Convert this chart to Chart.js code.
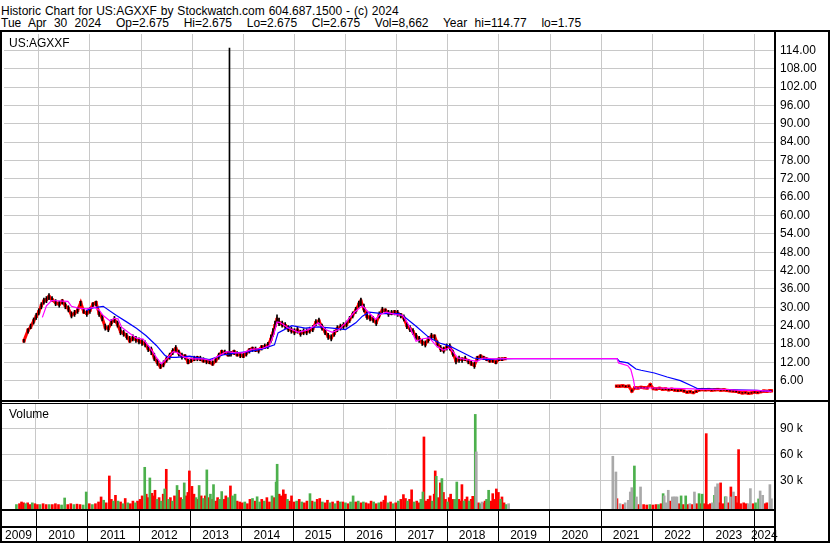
<!DOCTYPE html>
<html>
<head>
<meta charset="utf-8">
<title>US:AGXXF Historic Chart</title>
<script src="https://cdn.jsdelivr.net/npm/chart.js@4.4.1/dist/chart.umd.min.js"></script>
<style>
  html, body { margin: 0; padding: 0; background: #fff; }
  body { width: 830px; height: 543px; position: relative; overflow: hidden;
         font-family: "Liberation Sans", Arial, sans-serif; font-size: 12px; color: #000; }
  .txt { position: absolute; white-space: pre; line-height: 12px; }
  canvas { position: absolute; left: 0; }
</style>
</head>
<body>
<canvas id="priceChart" width="830" height="373" style="top:30px"></canvas>
<canvas id="volChart" width="830" height="140" style="top:403px"></canvas>
<div class="txt" style="left:1px;top:5px;word-spacing:0.6px">Historic Chart for US:AGXXF by Stockwatch.com 604.687.1500 - (c) 2024</div>
<div class="txt" style="left:1px;top:17px;word-spacing:4px">Tue Apr 30 2024  Op=2.675  Hi=2.675  Lo=2.675  Cl=2.675  Vol=8,662  Year hi=114.77  lo=1.75</div>
<div class="txt" style="left:9px;top:37px">US:AGXXF</div>
<div class="txt" style="left:9px;top:408px">Volume</div>
<script>
// ---- data (dates are fractional years) ----
var years = [2009, 2010, 2011, 2012, 2013, 2014, 2015, 2016, 2017, 2018, 2019, 2020, 2021, 2022, 2023, 2024];
var priceTicks = [6, 12, 18, 24, 30, 36, 42, 48, 54, 60, 66, 72, 78, 84, 90, 96, 102, 108, 114];
var volTicks = [30, 60, 90]; // thousands

var priceDates = [
  2009.71, 2009.79, 2009.84, 2009.90, 2009.95,
  2010.00, 2010.05, 2010.10, 2010.15, 2010.20, 2010.26, 2010.33, 2010.40, 2010.46, 2010.52, 2010.58, 2010.64, 2010.70, 2010.76, 2010.82, 2010.88, 2010.94,
  2011.00, 2011.06, 2011.12, 2011.18, 2011.24, 2011.30, 2011.36, 2011.42, 2011.48, 2011.54, 2011.60, 2011.66, 2011.72, 2011.78, 2011.84, 2011.90, 2011.96,
  2012.02, 2012.08, 2012.14, 2012.20, 2012.26, 2012.32, 2012.38, 2012.44, 2012.50, 2012.56, 2012.62, 2012.68, 2012.74, 2012.80, 2012.86, 2012.92, 2012.98,
  2013.04, 2013.10, 2013.16, 2013.22, 2013.28, 2013.34, 2013.40, 2013.46, 2013.52, 2013.58, 2013.64, 2013.70, 2013.73, 2013.76, 2013.82, 2013.88, 2013.94,
  2014.00, 2014.06, 2014.12, 2014.18, 2014.24, 2014.30, 2014.36, 2014.42, 2014.48, 2014.54, 2014.58, 2014.62, 2014.66, 2014.70, 2014.76, 2014.82, 2014.88, 2014.94,
  2015.00, 2015.06, 2015.12, 2015.18, 2015.24, 2015.30, 2015.36, 2015.42, 2015.48, 2015.54, 2015.60, 2015.66, 2015.72, 2015.78, 2015.84, 2015.90, 2015.96,
  2016.02, 2016.08, 2016.14, 2016.20, 2016.26, 2016.30, 2016.36, 2016.42, 2016.48, 2016.54, 2016.60, 2016.66, 2016.72, 2016.78, 2016.84, 2016.90, 2016.96,
  2017.02, 2017.08, 2017.14, 2017.20, 2017.26, 2017.32, 2017.38, 2017.44, 2017.50, 2017.56, 2017.62, 2017.68, 2017.74, 2017.80, 2017.86, 2017.92, 2017.98,
  2018.04, 2018.10, 2018.16, 2018.22, 2018.28, 2018.34, 2018.40, 2018.46, 2018.52, 2018.58, 2018.64, 2018.70, 2018.76, 2018.82, 2018.88, 2018.94,
  2019.00, 2019.06, 2019.12,
  2020.20,
  2021.30, 2021.36, 2021.42, 2021.48, 2021.54, 2021.60, 2021.66, 2021.72, 2021.78, 2021.84, 2021.90, 2021.96,
  2022.02, 2022.08, 2022.14, 2022.20, 2022.26, 2022.32, 2022.38, 2022.44, 2022.50, 2022.56, 2022.62, 2022.68, 2022.74, 2022.80, 2022.86, 2022.92, 2022.98,
  2023.04, 2023.10, 2023.16, 2023.22, 2023.28, 2023.34, 2023.40, 2023.46, 2023.52, 2023.58, 2023.64, 2023.70, 2023.76, 2023.82, 2023.88, 2023.94,
  2024.00, 2024.06, 2024.12, 2024.18, 2024.24, 2024.30, 2024.33
];
var closes = [
  19, 22.5, 23.5, 25.5, 27,
  28.5, 30.5, 32, 32.5, 33.5, 32.5, 31.5, 31, 32, 30.5, 29.5, 27.5, 28, 29, 31.5, 28.5, 28,
  29, 31, 31.5, 28, 26.5, 23.5, 23, 25, 26, 24.5, 22, 21.5, 20.5, 19, 20, 19.5, 19,
  18.5, 18, 16.5, 16, 13.5, 12, 10.5, 11.5, 13, 14, 15.5, 16.5, 15, 14, 14, 12, 12.5,
  13, 13.5, 13, 12.5, 12.5, 12, 11.5, 12.5, 14, 15.5, 15, 14.5, 15, 15, 15.5, 14.5, 14.5,
  14, 15, 16, 16.5, 16, 16, 17, 17, 17.5, 19.5, 21.5, 24, 26, 25, 24.5, 24, 23, 22.5,
  22, 22.5, 21.5, 22, 22, 22.5, 23, 25, 25.5, 23.5, 22, 20.5, 20, 21.5, 23, 23.5, 24,
  24.5, 26, 27.5, 29, 31, 32, 29.5, 27, 26.5, 26, 25, 27.5, 29, 29, 28, 28, 28.5,
  28, 27.5, 26.5, 24, 23, 22, 20.5, 19.5, 18.5, 18, 19.5, 20.5, 20.5, 18, 16.5, 16, 17,
  17, 15, 12.5, 13, 13, 13, 12.5, 11.5, 11, 13.5, 14, 13.5, 13, 12.5, 12.5, 12,
  13, 13, 13.2,
  null,
  4.2, 4.2, 4.3, 4.1, 4.2, 2.6, 3.7, 3.6, 3.8, 3.7, 3.6, 4.7,
  3.4, 3.3, 3.5, 3.2, 3.3, 3.0, 3.2, 2.9, 2.8, 2.9, 2.6, 2.2, 2.4, 2.1, 2.5, 3.0, 3.1,
  3.0, 3.1, 2.9, 3.0, 3.1, 2.9, 3.0, 2.8, 2.7, 2.6, 2.5, 2.2, 2.0, 2.1, 1.9, 2.0,
  2.3, 2.1, 2.4, 2.6, 2.5, 2.7, 2.675
];
var highs = [
  19.5, 23, 24.5, 26.5, 28,
  29.5, 31.5, 33, 33.5, 34.5, 33.5, 32.5, 32, 32.5, 31.5, 30.5, 28.5, 29, 30, 32, 29.5, 29,
  30, 31.5, 32, 29, 27.5, 24.5, 24, 26, 27, 25.5, 23.5, 22.5, 21.5, 20.5, 21, 20.5, 20,
  19.5, 19, 17.5, 17, 15, 13, 11.5, 12.5, 14, 15, 16.5, 17.5, 16, 15, 14.5, 13, 13.5,
  14, 14, 14, 13.5, 13, 13, 12.5, 13.5, 15, 16, 16, 15.5, 114.77, 15.5, 16, 15.5, 15,
  15, 15.5, 16.5, 17, 17, 16.5, 17.5, 18, 18.5, 21, 23, 25.5, 27.5, 26.5, 25.5, 25, 24, 23.5,
  23, 23.5, 22.5, 23, 23, 23.5, 24, 26, 26.5, 24.5, 23, 21.5, 21, 22.5, 24, 24.5, 25,
  25.5, 27, 28.5, 30, 32, 33, 31, 28.5, 27.5, 27, 26, 28.5, 30, 29.5, 29, 29, 29,
  29, 28, 27.5, 25, 24, 23, 21.5, 20.5, 19.5, 19, 20.5, 21.5, 21, 19, 17.5, 17, 18,
  18, 16, 13.5, 14, 13.5, 14, 13, 12.5, 12, 14, 14.5, 14, 13.5, 13, 13, 12.5,
  13.5, 13.5, 13.5,
  null,
  4.3, 4.3, 4.4, 4.3, 4.3, 3.0, 3.8, 3.7, 3.9, 3.8, 3.7, 4.8,
  3.5, 3.4, 3.6, 3.3, 3.4, 3.2, 3.3, 3.0, 2.9, 3.0, 2.8, 2.4, 2.5, 2.3, 2.6, 3.1, 3.2,
  3.1, 3.2, 3.0, 3.1, 3.2, 3.0, 3.1, 2.9, 2.8, 2.7, 2.6, 2.3, 2.1, 2.2, 2.0, 2.1,
  2.4, 2.2, 2.5, 2.7, 2.6, 2.8, 2.675
];
var lows = [
  18.5, 21.5, 23, 24.5, 26,
  27.5, 29.5, 31, 31.5, 32.5, 32, 30.5, 30, 31, 29.5, 28.5, 26.5, 27, 28, 30.5, 28, 27,
  28, 30, 30.5, 27, 25.5, 22.5, 22, 24, 25, 23.5, 21, 20.5, 19.5, 18.5, 19, 18.5, 18,
  17.5, 17, 15.5, 14.5, 12.5, 11, 10, 10.5, 12, 13, 14.5, 15.5, 14, 13, 13, 11.5, 12,
  12.5, 12.5, 12.5, 12, 11.5, 11.5, 11, 12, 13, 14.5, 14.5, 14, 14, 14, 14.5, 14, 13.5,
  13.5, 14, 15, 15.5, 15.5, 15, 16, 16.5, 16.5, 18.5, 20.5, 23, 25, 24, 23.5, 23, 22, 21.5,
  21, 21.5, 20.5, 21, 21, 21.5, 22, 24, 24.5, 22.5, 21, 19.5, 19, 20.5, 22, 22.5, 23,
  23.5, 25, 26.5, 28, 30, 30.5, 28.5, 26, 25.5, 25, 24, 26.5, 28, 28, 27, 27.5, 27.5,
  27, 26.5, 25.5, 23, 22, 21, 19.5, 18.5, 17.5, 17, 18.5, 19.5, 19.5, 17, 15.5, 15, 16,
  16, 14, 11.5, 12, 12, 12.5, 11.5, 11, 10, 12.5, 13.5, 13, 12.5, 12, 12, 11.5,
  12.5, 12.5, 13,
  null,
  4.1, 4.1, 4.2, 4.0, 4.1, 2.5, 3.5, 3.5, 3.6, 3.6, 3.5, 4.5,
  3.3, 3.2, 3.3, 3.1, 3.1, 2.9, 3.0, 2.8, 2.6, 2.7, 2.5, 2.1, 2.2, 2.0, 2.3, 2.8, 3.0,
  2.9, 3.0, 2.8, 2.9, 3.0, 2.8, 2.9, 2.7, 2.6, 2.5, 2.3, 2.1, 1.9, 2.0, 1.75, 1.9,
  2.1, 2.0, 2.3, 2.5, 2.4, 2.6, 2.675
];

// short moving average (magenta)
var maFastDates = [
  2010.07, 2010.15, 2010.25, 2010.57, 2010.64, 2010.77, 2010.93,
  2011.09, 2011.19, 2011.26, 2011.39, 2011.49, 2011.55, 2011.62, 2011.75, 2011.91,
  2012.04, 2012.17, 2012.30, 2012.40, 2012.50, 2012.63, 2012.72, 2012.85,
  2013.02, 2013.21, 2013.37, 2013.50, 2013.67, 2013.86, 2013.99,
  2014.16, 2014.38, 2014.51, 2014.60, 2014.66, 2014.72, 2014.88,
  2015.08, 2015.28, 2015.47, 2015.61, 2015.74, 2015.87,
  2016.00, 2016.16, 2016.33, 2016.46, 2016.59, 2016.66, 2016.79, 2016.99,
  2017.12, 2017.25, 2017.38, 2017.51, 2017.64, 2017.78, 2017.91,
  2018.04, 2018.20, 2018.37, 2018.57, 2018.70, 2018.89,
  2019.16, 2021.31, 2021.34, 2021.52, 2021.58, 2021.63, 2021.66, 2021.78,
  2022.04, 2022.42, 2022.81, 2022.88, 2023.46, 2023.72, 2024.04, 2024.33
];
var maFast = [
  26.7, 30.5, 32.2, 31.9, 30.3, 29.7, 29.5,
  30, 28.9, 27.3, 25.6, 26.4, 26.2, 23.5, 21.8, 19.9,
  19.6, 16.9, 13.6, 11.5, 13.1, 15.5, 15.1, 13.6,
  13.1, 13.1, 12.6, 14, 15.5, 15.1, 15.1,
  16.2, 16.6, 17.5, 21.3, 25.2, 25, 23.2,
  21.8, 22.7, 24.9, 22.7, 21.8, 22.7,
  24.9, 28.2, 30.5, 28.2, 26, 27.5, 28.4, 27.6,
  27.3, 23.8, 18.9, 19.7, 20, 17.3, 16,
  16.7, 13.4, 12.9, 12.3, 13.4, 13.1,
  13.2, 13.2, 11.8, 10.9, 9.6, 6.4, 3.6, 3.6,
  3.6, 3.5, 3.3, 3.1, 3.1, 2.8, 2.8, 2.5
];

// long moving average (blue)
var maSlowDates = [
  2010.93, 2011.03, 2011.26, 2011.52, 2011.71, 2011.91,
  2012.10, 2012.30, 2012.46, 2012.53, 2012.69, 2012.95,
  2013.08, 2013.34, 2013.60, 2013.86,
  2014.12, 2014.38, 2014.61, 2014.68, 2014.95,
  2015.21, 2015.47, 2015.74,
  2016.00, 2016.20, 2016.33, 2016.46, 2016.72,
  2017.05, 2017.18, 2017.38, 2017.64, 2017.84,
  2018.04, 2018.24, 2018.50, 2018.76,
  2019.03, 2019.29, 2021.31, 2021.36, 2021.52, 2021.68, 2021.78,
  2022.04, 2022.29, 2022.55, 2022.81, 2022.88,
  2023.07, 2023.46, 2024.04, 2024.33
];
var maSlow = [
  28.9, 29.7, 30.3, 27.3, 25.3, 23.1,
  20.7, 17.5, 14.4, 13.6, 13.6, 14,
  13.6, 12.9, 14.4, 15.1,
  15.5, 16.4, 17.7, 21.6, 24,
  23.2, 23.6, 23.2,
  22.7, 24.9, 27.1, 28.4, 27.9,
  27.9, 26.5, 23.8, 20, 18.3,
  17.3, 15.6, 13.4, 12.9,
  13.1, 13.2, 13.2, 12.3, 11.8, 9.8, 9.4,
  8.5, 7.2, 6.0, 4.0, 3.4,
  3.3, 3.1, 2.8, 2.5
];

// volume: u = up day (green), d = down day (red), n = unchanged (grey)
var volDates = [
  2009.62, 2009.68, 2009.72, 2009.76, 2009.80, 2009.84, 2009.88, 2009.93, 2009.98,
  2010.03, 2010.08, 2010.14, 2010.20, 2010.26, 2010.32, 2010.38, 2010.44, 2010.50, 2010.56, 2010.62, 2010.68, 2010.74, 2010.80, 2010.86, 2010.92, 2010.98,
  2011.04, 2011.10, 2011.16, 2011.22, 2011.27, 2011.32, 2011.37, 2011.43, 2011.47, 2011.51, 2011.55, 2011.60, 2011.65, 2011.70, 2011.74, 2011.79, 2011.84, 2011.89, 2011.94, 2011.98,
  2012.03, 2012.07, 2012.12, 2012.15, 2012.19, 2012.22, 2012.26, 2012.30, 2012.32, 2012.36, 2012.40, 2012.44, 2012.48, 2012.51, 2012.54, 2012.58, 2012.62, 2012.66, 2012.70, 2012.75, 2012.78, 2012.82, 2012.86, 2012.89, 2012.93, 2012.96, 2012.99,
  2013.04, 2013.08, 2013.12, 2013.15, 2013.18, 2013.22, 2013.26, 2013.30, 2013.33, 2013.37, 2013.40, 2013.44, 2013.46, 2013.50, 2013.54, 2013.58, 2013.62, 2013.66, 2013.70, 2013.75, 2013.79, 2013.83, 2013.88, 2013.92, 2013.97,
  2014.02, 2014.07, 2014.12, 2014.17, 2014.22, 2014.27, 2014.31, 2014.36, 2014.40, 2014.45, 2014.50, 2014.55, 2014.60, 2014.64, 2014.68, 2014.70, 2014.74, 2014.78, 2014.82, 2014.86, 2014.90, 2014.94, 2014.98,
  2015.03, 2015.08, 2015.13, 2015.18, 2015.23, 2015.28, 2015.34, 2015.38, 2015.43, 2015.48, 2015.53, 2015.58, 2015.63, 2015.68, 2015.73, 2015.78, 2015.83, 2015.88, 2015.93, 2015.98,
  2016.03, 2016.08, 2016.13, 2016.18, 2016.23, 2016.28, 2016.33, 2016.38, 2016.43, 2016.48, 2016.53, 2016.58, 2016.63, 2016.68, 2016.73, 2016.78, 2016.81, 2016.86, 2016.91, 2016.96,
  2017.01, 2017.06, 2017.11, 2017.16, 2017.20, 2017.24, 2017.28, 2017.32, 2017.37, 2017.42, 2017.46, 2017.50, 2017.54, 2017.56, 2017.60, 2017.64, 2017.68, 2017.72, 2017.76, 2017.78, 2017.80, 2017.84, 2017.88, 2017.91, 2017.94, 2017.98,
  2018.02, 2018.05, 2018.08, 2018.12, 2018.16, 2018.20, 2018.24, 2018.28, 2018.30, 2018.34, 2018.37, 2018.40, 2018.44, 2018.48, 2018.51, 2018.54, 2018.56, 2018.58, 2018.62, 2018.66, 2018.69, 2018.72, 2018.75, 2018.78, 2018.82, 2018.86, 2018.90, 2018.94, 2018.97,
  2019.01, 2019.05, 2019.08, 2019.12, 2019.16, 2019.21,
  2021.24, 2021.30, 2021.32, 2021.38, 2021.44, 2021.48, 2021.54, 2021.58, 2021.61, 2021.66, 2021.70, 2021.74, 2021.78, 2021.84, 2021.90, 2021.96,
  2022.02, 2022.08, 2022.13, 2022.18, 2022.22, 2022.24, 2022.28, 2022.32, 2022.36, 2022.40, 2022.43, 2022.46, 2022.49, 2022.53, 2022.57, 2022.61, 2022.66, 2022.70, 2022.74, 2022.78, 2022.83, 2022.87, 2022.92, 2022.95, 2022.98,
  2023.02, 2023.06, 2023.10, 2023.14, 2023.18, 2023.22, 2023.24, 2023.28, 2023.31, 2023.34, 2023.38, 2023.43, 2023.45, 2023.49, 2023.53, 2023.54, 2023.59, 2023.63, 2023.66, 2023.69, 2023.73, 2023.79, 2023.84, 2023.88, 2023.92, 2023.97,
  2024.02, 2024.08, 2024.11, 2024.16, 2024.20, 2024.24, 2024.30, 2024.33
];
var volumesK = [
  2, 3, 5, 4, 3, 4, 2, 4, 3,
  2, 2, 3, 2, 2, 2, 3, 2, 1.5, 9.6, 2, 3, 2, 2.5, 2, 1.5, 16.5,
  3, 2, 3, 5, 10.8, 7, 4, 35, 8, 6, 12.7, 6, 5, 3, 9, 4, 3, 6, 4, 6,
  8, 12, 45, 14, 10, 32.7, 15, 12, 18.5, 8, 10, 6, 14, 20, 42.7, 8, 10, 6, 12, 24, 18.5, 10, 8, 27, 12, 16, 40.8,
  23, 14, 10, 8, 24, 12, 9, 12, 42, 10, 14, 8, 25, 6, 10, 8, 17, 8, 12, 10, 23.5, 12, 14, 6, 5,
  4, 5, 3, 8, 9, 6, 11, 5, 8, 6, 10, 5, 12, 10, 28, 48.5, 14, 12, 19, 14, 8, 6, 12,
  5, 6, 8, 5, 4, 6, 14.6, 6, 5, 8, 9, 5, 4, 7, 4, 5, 3, 6, 5, 5,
  4, 3, 5, 12, 5, 6, 4, 5, 4, 3, 6, 5, 3, 4, 5, 7, 12, 4, 5, 3,
  4, 6, 8, 13.5, 9, 6, 8, 19, 5, 6, 4, 8, 16.5, 80, 6, 8, 12, 6, 14, 40.8, 34.6, 10, 27, 32, 16, 8,
  5, 10, 14, 8, 8, 28, 8, 6, 25, 6, 8, 10.8, 6, 8, 11.5, 5, 106, 62.7, 4, 3, 5, 4, 6, 8, 18.5, 6, 14.6, 8, 20,
  16, 8, 10.8, 4, 2, 3,
  57.7, 39.6, 8.8, 3, 2, 4, 6.9, 16.5, 21.5, 46.5, 10.8, 2, 22.3, 2, 1.5, 2,
  1.5, 2, 2, 3, 14.6, 12, 4, 18.5, 6, 10.8, 10.8, 10.8, 10.8, 3, 12, 2, 12, 2, 3, 2, 16.5, 3, 14.6, 3, 14,
  3, 83.8, 2, 3, 4, 12.7, 22.3, 26, 4, 27, 3, 11, 11, 4, 10.8, 22.3, 16.5, 11.5, 4, 65.4, 3, 4, 3, 3, 20.4, 3,
  4, 8.5, 17.7, 12.7, 3, 4, 25, 8.662
];
var volDirs = [
  'uddduddud',
  'dudduddduuddudduu',
  'dudddudddududududdud',
  'ddud' + 'dudd' + 'dudu' + 'dudu' + 'dudu' + 'dduu' + 'ddd',
  'ddud' + 'udud' + 'udud' + 'uddu' + 'uddu' + 'duud' + 'd',
  'dudd' + 'uduu' + 'dudd' + 'uduu' + 'dddd' + 'udd',
  'dudu' + 'ddud' + 'uddu' + 'ddud' + 'udud',
  'uduu' + 'dudu' + 'dddu' + 'dudd' + 'dudu',
  'dudd' + 'dudd' + 'uddu' + 'uddd' + 'dudd' + 'uddu' + 'dd',
  'uddd' + 'uudd' + 'dudd' + 'uddd' + 'undu' + 'nddu' + 'uddd' + 'd',
  'duddun',
  'nndn' + 'dnnn' + 'nund' + 'nddu',
  'ddud' + 'unnn' + 'dnnn' + 'ndud' + 'udnd' + 'ndud' + 'u',
  'dddd' + 'nunn' + 'dddu' + 'ndnd' + 'nddd' + 'dddn' + 'nd',
  'uunnddnn'
].join('');

// ---- layout constants ----
var X_MIN = 2009.32, X_MAX = 2024.38;
var gridColor = '#c8c8c8';
Chart.defaults.font.family = '"Liberation Sans", Arial, sans-serif';
Chart.defaults.font.size = 12;
Chart.defaults.color = '#000';

// drop the auto padding Chart.js adds for edge labels
function noPad(s) {
  s.paddingLeft = 0; s.paddingRight = 0; s.paddingTop = 0; s.paddingBottom = 0;
}

// price panel frame
var priceFrame = {
  id: 'priceFrame',
  afterDraw: function(chart) {
    var c = chart.ctx, h = chart.height;
    c.save();
    c.fillStyle = '#000';
    c.fillRect(0, 0, 830, 2);
    c.fillRect(0, 0, 2, h);
    c.fillRect(828, 0, 2, h);
    c.fillRect(774, 0, 2, h);
    c.fillRect(0, 370, 830, 2);
    c.restore();
  }
};

// volume panel frame + year separators
var volFrame = {
  id: 'volFrame',
  afterDraw: function(chart) {
    var c = chart.ctx, h = chart.height, xs = chart.scales.x;
    c.save();
    c.fillStyle = '#000';
    c.fillRect(0, 0, 774, 1);
    c.fillRect(0, 0, 2, h);
    c.fillRect(828, 0, 2, h);
    c.fillRect(774, 0, 2, h);
    c.fillRect(0, 106, 774, 2);
    c.fillRect(0, 123, 774, 2);
    c.fillRect(0, 138, 830, 2);
    years.forEach(function(y) {
      if (y <= X_MIN || y >= X_MAX) return;
      var px = Math.round(xs.getPixelForValue(y));
      c.fillRect(px, 106, 1, 34);
    });
    c.restore();
  }
};

// ---- price chart ----
var rangeData = [];
for (var i = 0; i < priceDates.length; i++) {
  if (highs[i] != null) rangeData.push({ x: priceDates[i], y: [lows[i], highs[i]] });
}

new Chart(document.getElementById('priceChart'), {
  type: 'line',
  data: {
    datasets: [
      {
        label: 'Short MA',
        data: maFastDates.map(function(d, i) { return { x: d, y: maFast[i] }; }),
        borderColor: '#ff00ff', borderWidth: 1.2, pointRadius: 0, tension: 0, order: 0
      },
      {
        label: 'Long MA',
        data: maSlowDates.map(function(d, i) { return { x: d, y: maSlow[i] }; }),
        borderColor: '#0000ff', borderWidth: 1.2, pointRadius: 0, tension: 0, order: 1
      },
      {
        type: 'bar',
        label: 'High-Low',
        data: rangeData,
        backgroundColor: '#000', barThickness: 1, grouped: false, order: 2
      },
      {
        label: 'Close',
        data: priceDates.map(function(d, i) { return { x: d, y: closes[i] }; }),
        borderColor: '#ff0000', borderWidth: 3, spanGaps: false,
        pointStyle: 'rect', pointRadius: 2.3, pointBackgroundColor: '#ff0000', pointBorderWidth: 0,
        order: 3
      }
    ]
  },
  options: {
    responsive: false,
    animation: false,
    events: [],
    layout: { padding: { left: 1, top: 2, right: 0, bottom: 3 } },
    plugins: { legend: { display: false }, tooltip: { enabled: false } },
    scales: {
      x: {
        type: 'linear', min: X_MIN, max: X_MAX, offset: false,
        afterBuildTicks: function(s) { s.ticks = years.map(function(v) { return { value: v }; }); },
        ticks: { display: false },
        grid: { color: gridColor, drawTicks: false, offset: false },
        border: { display: false },
        afterFit: function(s) { s.height = 0; noPad(s); }
      },
      y: {
        position: 'right', min: 0, max: 119.35,
        afterBuildTicks: function(s) { s.ticks = priceTicks.map(function(v) { return { value: v }; }); },
        ticks: { padding: 6, callback: function(v) { return Number(v).toFixed(2); } },
        grid: { color: gridColor, drawTicks: false },
        border: { display: false },
        afterFit: function(s) { s.width = 56; noPad(s); }
      }
    }
  },
  plugins: [priceFrame]
});

// ---- volume chart ----
function volSet(dir, color) {
  var pts = [];
  for (var i = 0; i < volDates.length; i++) {
    if (volDirs[i] === dir) pts.push({ x: volDates[i], y: volumesK[i] });
  }
  return { data: pts, backgroundColor: color, barThickness: 2, grouped: false, base: -3.1 };
}

function labelCenter(y) {
  return (Math.max(y, X_MIN) + Math.min(y + 1, X_MAX)) / 2;
}

new Chart(document.getElementById('volChart'), {
  type: 'bar',
  data: {
    datasets: [
      volSet('n', '#a9a9a9'),
      volSet('u', '#4cb04c'),
      volSet('d', '#ff0000')
    ]
  },
  options: {
    responsive: false,
    animation: false,
    events: [],
    layout: { padding: { left: 1, top: 1, right: 0, bottom: 0 } },
    plugins: { legend: { display: false }, tooltip: { enabled: false } },
    scales: {
      x: {
        type: 'linear', min: X_MIN, max: X_MAX, offset: false,
        afterBuildTicks: function(s) {
          var t = [];
          years.forEach(function(y) {
            if (y > X_MIN && y < X_MAX) t.push({ value: y });
            t.push({ value: labelCenter(y) });
          });
          t.sort(function(a, b) { return a.value - b.value; });
          s.ticks = t;
        },
        ticks: {
          autoSkip: false, maxRotation: 0, padding: 19,
          callback: function(v) { return Number.isInteger(v) ? '' : String(Math.floor(v)); }
        },
        grid: {
          offset: false, drawTicks: false,
          color: function(ctx) {
            return (ctx.tick && Number.isInteger(ctx.tick.value)) ? gridColor : 'rgba(0,0,0,0)';
          }
        },
        border: { display: false },
        afterFit: function(s) { s.height = 34; noPad(s); }
      },
      y: {
        position: 'right', min: -3.1, max: 118,
        afterBuildTicks: function(s) { s.ticks = volTicks.map(function(v) { return { value: v }; }); },
        ticks: { padding: 6, callback: function(v) { return v + ' k'; } },
        grid: { color: gridColor, drawTicks: false },
        border: { display: false },
        afterFit: function(s) { s.width = 56; noPad(s); }
      }
    }
  },
  plugins: [volFrame]
});
</script>
</body>
</html>
